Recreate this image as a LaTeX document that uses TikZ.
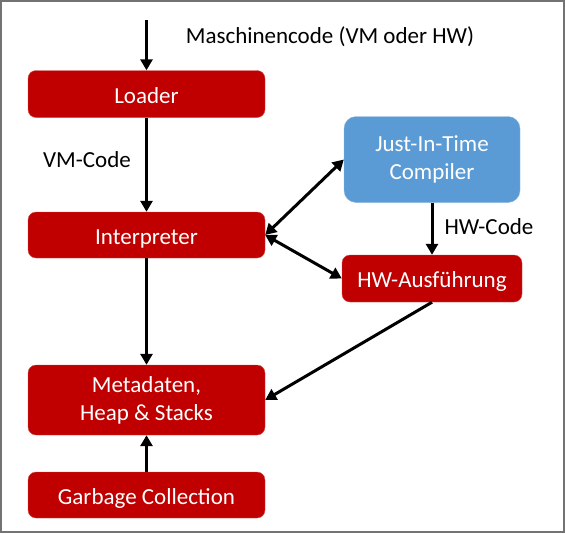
\documentclass[tikz,border=0pt]{standalone}
\usepackage{fontspec}
\setmainfont{Carlito}
\usetikzlibrary{arrows.meta}
\definecolor{boxred}{HTML}{C00000}
\definecolor{boxblue}{HTML}{5B9BD5}
\tikzset{
  redbox/.style={fill=boxred, draw=boxred!70!white, rounded corners=8pt, text=white, align=center, inner sep=0pt},
  bluebox/.style={fill=boxblue, draw=boxblue!70!white, rounded corners=12pt, text=white, align=center, inner sep=0pt},
  oneline/.style={text height=19pt, text depth=1pt},
  arr/.style={line width=3pt, -{Triangle[length=11pt, width=12pt]}},
  darr/.style={line width=3pt, {Triangle[length=11pt, width=12pt]}-{Triangle[length=11pt, width=12pt]}},
  lbl/.style={text=black}
}
\begin{document}
\begin{tikzpicture}[x=1pt, y=-1pt, font=\fontsize{23}{28}\selectfont]
			%%%%% FRAME %%%%%
			\useasboundingbox (0,0) rectangle (565,533);
			\draw[line width=1.5pt, color=black!55] (1,1) rectangle (564,532);
			
			%%%%% BOXES %%%%%
			\node[redbox, oneline, minimum width=237pt, minimum height=47pt] (loader) at (146.5, 94) {Loader};
			\node[redbox, oneline, minimum width=237pt, minimum height=46pt] (interp) at (146.5, 235) {Interpreter};
			\node[redbox, minimum width=237pt, minimum height=70pt] (meta) at (146.5, 400) {Metadaten,\\Heap \& Stacks};
			\node[redbox, oneline, minimum width=237pt, minimum height=46pt] (gc) at (146.5, 495) {Garbage Collection};
			\node[bluebox, minimum width=176pt, minimum height=86pt] (jit) at (432, 159.5) {Just-In-Time\\Compiler};
			\node[redbox, oneline, minimum width=180pt, minimum height=47pt] (hw) at (432, 278.5) {HW-Ausführung};
			
			%%%%% LABELS %%%%%
			\node[lbl] (mcode) at (330, 37) {Maschinencode (VM oder HW)};
			\node[lbl] (vmcode) at (87, 160) {VM-Code};
			\node[lbl] (hwcode) at (489, 227) {HW-Code};
			
			%%%%% ARROWS %%%%%
			\coordinate (in) at (146.5, 20);
			\draw[arr] (in) -- (loader.north);
			\draw[arr] (loader.south) -- (interp.north);
			\draw[arr] (interp.south) -- (meta.north);
			\draw[arr] (gc.north) -- (meta.south);
			\draw[arr] (jit.south) -- (hw.north);
			\draw[darr] (interp.east) -- (jit.west);
			\draw[darr] (interp.east) -- (hw.west);
			\draw[arr] (hw.south) -- (meta.east);
			
			%%%%% END %%%%%
\end{tikzpicture}
\end{document}
